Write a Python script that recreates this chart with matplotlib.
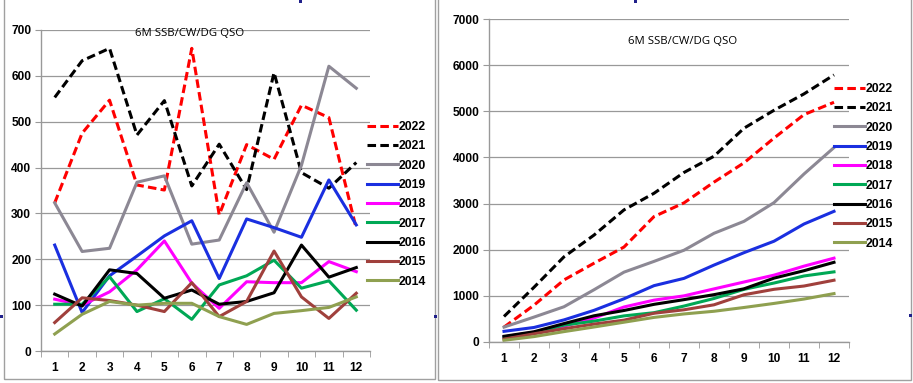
import numpy as np
import matplotlib
matplotlib.use("Agg")
import matplotlib.pyplot as plt
from matplotlib.patches import Rectangle

months = list(range(1, 13))
month_labels = [str(m) for m in months]

years = ["2022", "2021", "2020", "2019", "2018", "2017", "2016", "2015", "2014"]

qso_2022 = [323, 475, 547, 362, 351, 660, 297, 450, 418, 536, 509, 267]
qso_2021 = [553, 633, 660, 471, 546, 360, 451, 352, 607, 389, 355, 411]
qso_2020 = [323, 217, 224, 368, 382, 233, 242, 367, 259, 405, 621, 573]
qso_2019 = [231, 84, 164, 207, 251, 284, 158, 288, 269, 248, 373, 275]
qso_2018 = [113, 100, 129, 177, 240, 148, 93, 151, 149, 149, 195, 173]
qso_2017 = [102, 102, 162, 86, 114, 69, 144, 164, 198, 137, 153, 89]
qso_2016 = [124, 98, 177, 169, 115, 133, 102, 108, 127, 231, 161, 182]
qso_2015 = [62, 116, 110, 100, 86, 149, 75, 108, 218, 118, 71, 126]
qso_2014 = [37, 80, 108, 100, 104, 104, 75, 58, 82, 88, 95, 118]

series = [qso_2022, qso_2021, qso_2020, qso_2019, qso_2018,
          qso_2017, qso_2016, qso_2015, qso_2014]

colors = ["#FF0000", "#000000", "#8C8894", "#1A2FE0", "#FF00FF",
          "#00A855", "#000000", "#A0403C", "#8FA050"]
dashed = [True, True, False, False, False, False, False, False, False]

title = "6M SSB/CW/DG QSO"

W, H = 913, 383
fig = plt.figure(figsize=(W / 100, H / 100), dpi=100)
fig.patch.set_facecolor("white")

# panel borders
for (x0, y0, x1, y1) in [(4, -5, 435, 379), (438, -5, 911, 380)]:
    fig.patches.append(Rectangle((x0 / W, 1 - y1 / H), (x1 - x0) / W, (y1 - y0) / H,
                                 transform=fig.transFigure, fill=False,
                                 edgecolor="#A0A0A0", lw=1.0))

tick_font = dict(family="Liberation Sans", weight="bold", size=8.6)
grid_c = "#999999"


def setup(ax, ymax, ystep):
    ax.set_xlim(0.5, 12.5)
    ax.set_ylim(0, ymax)
    ax.set_yticks(np.arange(0, ymax + 1, ystep))
    ax.set_xticks(months)
    ax.set_xticklabels(month_labels)
    ax.set_xticks(np.arange(0.5, 12.6, 1), minor=True)
    ax.tick_params(axis="x", which="major", length=0, pad=8)
    ax.tick_params(axis="x", which="minor", length=4, color=grid_c, direction="out")
    ax.tick_params(axis="y", length=4, color=grid_c, direction="out", pad=3)
    for lab in ax.get_xticklabels() + ax.get_yticklabels():
        lab.set_fontfamily(tick_font["family"])
        lab.set_fontweight("bold")
        lab.set_fontsize(tick_font["size"])
    ax.grid(axis="y", color=grid_c, lw=0.9)
    ax.set_axisbelow(True)
    for s in ["top", "right"]:
        ax.spines[s].set_visible(False)
    for s in ["left", "bottom"]:
        ax.spines[s].set_color(grid_c)
        ax.spines[s].set_linewidth(1.0)


def draw(ax, data_list):
    handles = []
    for y, d, c, dsh in zip(years, data_list, colors, dashed):
        if dsh:
            ln, = ax.plot(months, d, color=c, lw=2.2, ls=(0, (2.8, 1.4)), label=y)
        else:
            ln, = ax.plot(months, d, color=c, lw=2.2, label=y)
        handles.append(ln)
    return handles


leg_kw = dict(frameon=False,
              prop=dict(family="Liberation Sans", weight="bold", size=8.8),
              handlelength=2.5, handletextpad=0.05, labelspacing=0.6,
              borderpad=0, borderaxespad=0)

# left panel: monthly
ax1 = fig.add_axes([41 / W, 1 - 351 / H, 329 / W, 321 / H])
setup(ax1, 700, 100)
h1 = draw(ax1, series)
ax1.text(190 / W, 1 - 34 / H, title, transform=fig.transFigure, ha="center", va="center",
         family="Open Sans", fontsize=8.2)
ax1.legend(handles=h1, loc="upper left", bbox_to_anchor=(367 / W, 1 - 121 / H),
           bbox_transform=fig.transFigure, **leg_kw)

# right panel: cumulative
ax2 = fig.add_axes([489 / W, 1 - 342 / H, 360 / W, 323 / H])
setup(ax2, 7000, 1000)
cum = [np.cumsum(s) for s in series]
h2 = draw(ax2, cum)
ax2.text(683 / W, 1 - 41 / H, title, transform=fig.transFigure, ha="center", va="center",
         family="Open Sans", fontsize=8.2)
ax2.legend(handles=h2, loc="upper left", bbox_to_anchor=(834 / W, 1 - 83 / H),
           bbox_transform=fig.transFigure, **leg_kw)

# small selection handles of the spreadsheet
for (x, y) in [(1, 316), (435, 316), (300, 1), (910, 315), (635, 1)]:
    fig.patches.append(Rectangle(((x - 1.5) / W, 1 - (y + 1.5) / H), 3 / W, 3 / H,
                                 transform=fig.transFigure, color="#20208A", lw=0))

fig.savefig("out.png", dpi=100, facecolor="white")
